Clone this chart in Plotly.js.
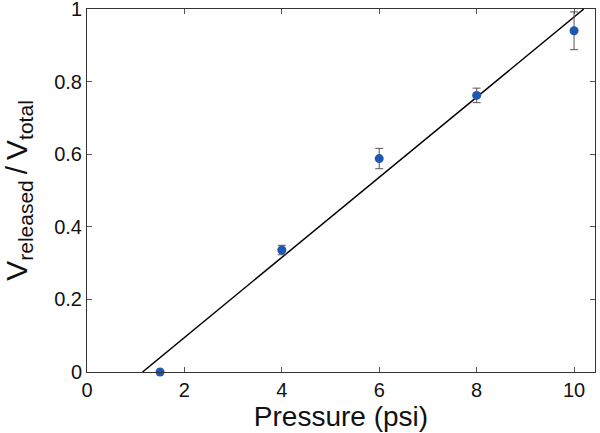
<!DOCTYPE html>
<html>
<head>
<meta charset="utf-8">
<script src="https://cdn.plot.ly/plotly-3.0.1.min.js"></script>
<style>html,body{margin:0;padding:0;background:#fff;}#chart{width:600px;height:433px;}</style>
</head>
<body>
<div id="chart"></div>
<script>
// Measured data
const pressure = [1.5, 4, 6, 8, 10];
const vRatio = [0.0, 0.336, 0.588, 0.762, 0.940];
const vError = [0.0, 0.013, 0.028, 0.020, 0.052];
// Linear fit line endpoints
const fitX = [1.14, 10.2];
const fitY = [0.0, 1.0];
// Tick labels
const xTicks = [0, 2, 4, 6, 8, 10];
const xTickText = ['0', '2', '4', '6', '8', '10'];
const yTicks = [0, 0.2, 0.4, 0.6, 0.8, 1];
const yTickText = ['0', '0.2', '0.4', '0.6', '0.8', '1'];

const font = 'Liberation Sans, Arial, sans-serif';

const traces = [
  {
    x: fitX, y: fitY, mode: 'lines', type: 'scatter',
    line: {color: '#000', width: 1.5}, hoverinfo: 'skip', showlegend: false
  },
  {
    x: pressure, y: vRatio, mode: 'markers', type: 'scatter',
    marker: {color: '#1f57b3', size: 9},
    error_y: {type: 'data', array: vError, visible: true, color: '#555', thickness: 1, width: 4},
    cliponaxis: false, showlegend: false
  }
];

const axisCommon = {
  showline: true, linecolor: '#333', linewidth: 1, mirror: 'ticks',
  ticks: 'inside', ticklen: 5, tickwidth: 1, tickcolor: '#555',
  showgrid: false, zeroline: false, ticklabeloverflow: 'allow',
  tickfont: {family: font, size: 20, color: '#111'}
};

const layout = {
  width: 600, height: 433,
  margin: {l: 87, r: 5, t: 9, b: 61},
  paper_bgcolor: '#fff', plot_bgcolor: '#fff',
  xaxis: Object.assign({}, axisCommon, {
    range: [0, 10.43], tickvals: xTicks, ticktext: xTickText,
    title: {text: 'Pressure (psi)', font: {family: font, size: 28, color: '#111'}, standoff: 3}
  }),
  yaxis: Object.assign({}, axisCommon, {
    range: [0, 1], tickvals: yTicks, ticktext: yTickText,
    title: {text: 'V<sub>released</sub>\u2009/\u2009V<sub>total</sub>', font: {family: font, size: 30, color: '#111'}, standoff: 20}
  })
};

Plotly.newPlot('chart', traces, layout, {displayModeBar: false, staticPlot: true});
</script>
</body>
</html>
